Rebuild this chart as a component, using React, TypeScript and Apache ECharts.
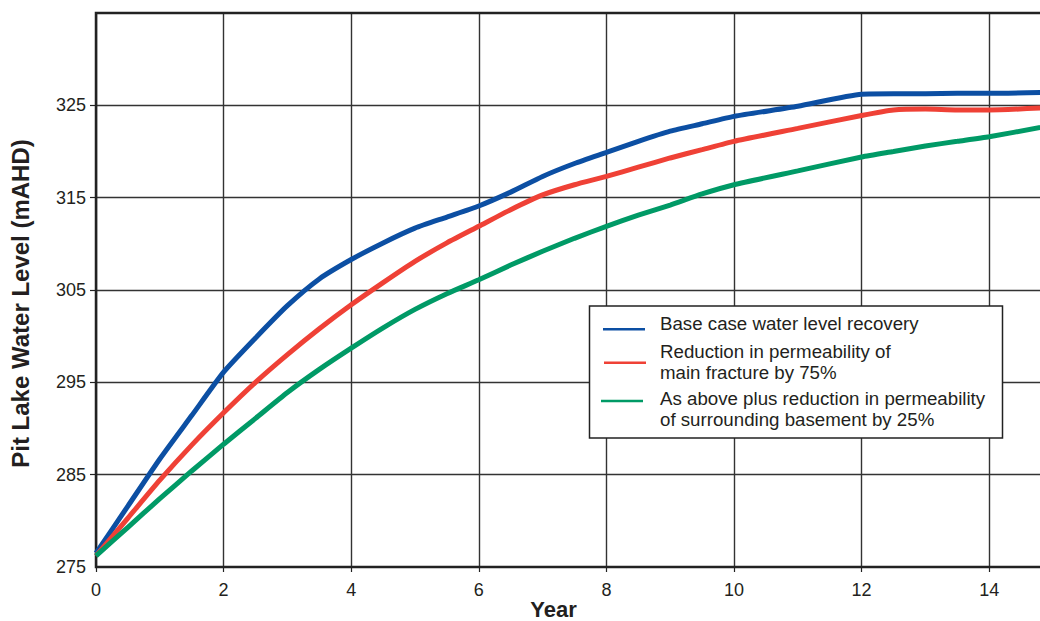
import React, { useEffect, useRef } from "react";
import * as echarts from "echarts";

const years = [0, 0.5, 1, 1.5, 2, 2.5, 3, 3.5, 4, 4.5, 5, 5.5, 6, 6.5, 7, 7.5, 8, 8.5, 9, 9.5, 10, 11, 12, 12.5, 13, 13.5, 14, 14.8];
const baseCase = [276.5, 281.6, 286.7, 291.4, 296.1, 299.8, 303.3, 306.2, 308.3, 310.1, 311.7, 312.9, 314.1, 315.6, 317.3, 318.7, 319.9, 321.1, 322.2, 323.0, 323.8, 324.9, 326.2, 326.25, 326.25, 326.3, 326.3, 326.4];
const fracture75 = [276.2, 280.3, 284.4, 288.2, 291.7, 295.0, 298.0, 300.8, 303.4, 305.8, 308.1, 310.1, 311.9, 313.7, 315.3, 316.4, 317.3, 318.3, 319.3, 320.2, 321.1, 322.5, 323.9, 324.5, 324.6, 324.5, 324.5, 324.7];
const basement25 = [276.2, 279.3, 282.4, 285.4, 288.3, 291.1, 293.9, 296.4, 298.7, 300.9, 302.9, 304.6, 306.1, 307.7, 309.2, 310.6, 311.9, 313.1, 314.2, 315.4, 316.4, 317.9, 319.4, 320.0, 320.6, 321.1, 321.6, 322.6];

const yTickValues = [275, 285, 295, 305, 315, 325];
const yTickMarks = [285, 295, 305, 315, 325];
const xTickValues = [0, 2, 4, 6, 8, 10, 12, 14];

const seriesNames = [
  "Base case water level recovery",
  "Reduction in permeability of\nmain fracture by 75%",
  "As above plus reduction in permeability\nof surrounding basement by 25%",
];
const colors = ["#0c4fa3", "#ef4136", "#009a66"];

const FONT = '"Liberation Sans", Arial, Helvetica, sans-serif';
const TEXT = "#231f20";

function pairs(xs: number[], ys: number[]) {
  return xs.map((x, i) => [x, ys[i]]);
}

export default function App() {
  const ref = useRef<HTMLDivElement>(null);
  useEffect(() => {
    if (!ref.current) return;
    const chart = echarts.init(ref.current, null, { renderer: "svg" });
    const lineText = (text: string, y: number) => ({
      type: "text",
      x: 660,
      y,
      z: 101,
      style: { text, fontSize: 18.7, fontFamily: FONT, fill: TEXT, align: "left", verticalAlign: "middle" },
    });
    chart.setOption({
      animation: false,
      backgroundColor: "#ffffff",
      grid: {
        left: 96,
        right: 0,
        top: 13,
        bottom: 54,
        show: true,
        borderColor: "#222",
        borderWidth: 2.5,
        backgroundColor: "transparent",
        z: 3,
      },
      xAxis: {
        type: "value",
        min: 0,
        max: 15,
        interval: 2,
        axisLine: { show: false },
        axisTick: { show: true, length: 5, lineStyle: { color: "#222", width: 1.2 }, customValues: xTickValues },
        axisLabel: { fontSize: 18, fontFamily: FONT, color: TEXT, margin: 14, customValues: xTickValues },
        splitLine: { show: true, lineStyle: { color: "#333", width: 1.4 } },
      },
      yAxis: {
        type: "value",
        min: 275,
        max: 335,
        interval: 10,
        axisLine: { show: false },
        axisTick: { show: true, length: 6, lineStyle: { color: "#222", width: 1.2 }, customValues: yTickMarks },
        axisLabel: { fontSize: 18, fontFamily: FONT, color: TEXT, margin: 10, customValues: yTickValues },
        splitLine: { show: true, lineStyle: { color: "#333", width: 1.4 } },
      },
      series: [
        { name: seriesNames[0], type: "line", data: pairs(years, baseCase), smooth: 0.2, symbol: "none", lineStyle: { color: colors[0], width: 5 }, z: 4 },
        { name: seriesNames[1], type: "line", data: pairs(years, fracture75), smooth: 0.2, symbol: "none", lineStyle: { color: colors[1], width: 5 }, z: 5 },
        { name: seriesNames[2], type: "line", data: pairs(years, basement25), smooth: 0.2, symbol: "none", lineStyle: { color: colors[2], width: 5 }, z: 6 },
      ],
      graphic: [
        {
          type: "text",
          x: 553.5,
          y: 609.5,
          style: { text: "Year", fontSize: 22, fontWeight: "bold", fontFamily: FONT, fill: TEXT, align: "center", verticalAlign: "middle" },
        },
        {
          type: "text",
          x: 20,
          y: 303.5,
          rotation: Math.PI / 2,
          style: { text: "Pit Lake Water Level (mAHD)", fontSize: 24, fontWeight: "bold", fontFamily: FONT, fill: TEXT, align: "center", verticalAlign: "middle" },
        },
        {
          type: "rect",
          z: 100,
          shape: { x: 589.5, y: 306, width: 413, height: 132 },
          style: { fill: "#ffffff", stroke: "#222", lineWidth: 1.5 },
        },
        { type: "line", z: 101, shape: { x1: 603, y1: 329.3, x2: 645, y2: 329.3 }, style: { stroke: colors[0], lineWidth: 2.5 } },
        { type: "line", z: 101, shape: { x1: 604, y1: 362.7, x2: 646, y2: 362.7 }, style: { stroke: colors[1], lineWidth: 2.5 } },
        { type: "line", z: 101, shape: { x1: 601, y1: 401, x2: 643, y2: 401 }, style: { stroke: colors[2], lineWidth: 2.5 } },
        lineText("Base case water level recovery", 323.5),
        lineText("Reduction in permeability of", 351.5),
        lineText("main fracture by 75%", 372),
        lineText("As above plus reduction in permeability", 398.5),
        lineText("of surrounding basement by 25%", 419),
      ],
    });
    return () => chart.dispose();
  }, []);
  return (
    <div style={{ position: "absolute", left: 0, top: 0, width: 1040, height: 621, overflow: "hidden" }}>
      <div ref={ref} style={{ width: 1053, height: 621 }} />
    </div>
  );
}
